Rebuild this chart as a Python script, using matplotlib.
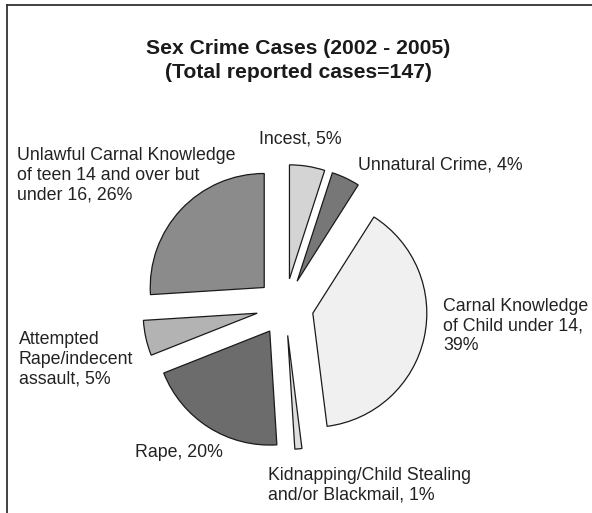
import matplotlib
matplotlib.use("Agg")
import matplotlib.pyplot as plt
from matplotlib.lines import Line2D

plt.rcParams['font.family'] = ['Liberation Sans', 'DejaVu Sans']

categories = ["Incest", "Unnatural Crime", "Carnal Knowledge\nof Child under 14,",
              "Kidnapping/Child Stealing\nand/or Blackmail,", "Rape,",
              "Attempted\nRape/indecent\nassault,",
              "Unlawful Carnal Knowledge\nof teen 14 and over but\nunder 16,"]
percents = [5, 4, 39, 1, 20, 5, 26]
colors = ["#d4d4d4", "#777777", "#f0f0f0", "#dedede", "#6c6c6c", "#b3b3b3", "#8b8b8b"]

# label separators between name and percent
seps = [", ", ", ", "\n", " ", " ", " ", " "]

# label anchor positions (pixels from top-left, left aligned, top of first line)
label_pos = [(259, 130), (358, 156), (443, 298), (268, 467), (135, 444), (19, 331), (17, 147)]

W, H = 592, 513
fig = plt.figure(figsize=(W / 100, H / 100), dpi=100)
ax = fig.add_axes([0, 0, 1, 1])

cx, cy, r = 285, 307, 114
ax.pie(percents, colors=colors, startangle=90, counterclock=False,
       explode=[0.25] * len(percents), radius=1,
       wedgeprops=dict(edgecolor="#1a1a1a", linewidth=0.9))
ax.set_aspect('auto')
ax.set_xlim(-cx / r, (W - cx) / r)
ax.set_ylim(-(H - cy) / r, cy / r)
ax.axis('off')

# title
fig.text(298 / W, 1 - 48 / H, "Sex Crime Cases (2002 - 2005)", ha='center', va='center',
         fontsize=15.2, fontweight='bold', color='#1a1a1a')
fig.text(298 / W, 1 - 72 / H, "(Total reported cases=147)", ha='center', va='center',
         fontsize=15.2, fontweight='bold', color='#1a1a1a')

for name, sep, p, (x, y) in zip(categories, seps, percents, label_pos):
    fig.text(x / W, 1 - y / H, f"{name}{sep}{p}%", ha='left', va='top',
             fontsize=12.8, color='#222222', linespacing=1.2)

# frame (top and left edges visible)
fig.add_artist(Line2D([7 / W, 1.0], [1 - 5 / H, 1 - 5 / H], transform=fig.transFigure,
                      color='#333333', linewidth=1.3))
fig.add_artist(Line2D([7 / W, 7 / W], [1 - 5 / H, 0], transform=fig.transFigure,
                      color='#333333', linewidth=1.3))

fig.savefig("out.png", dpi=100, facecolor='white')
